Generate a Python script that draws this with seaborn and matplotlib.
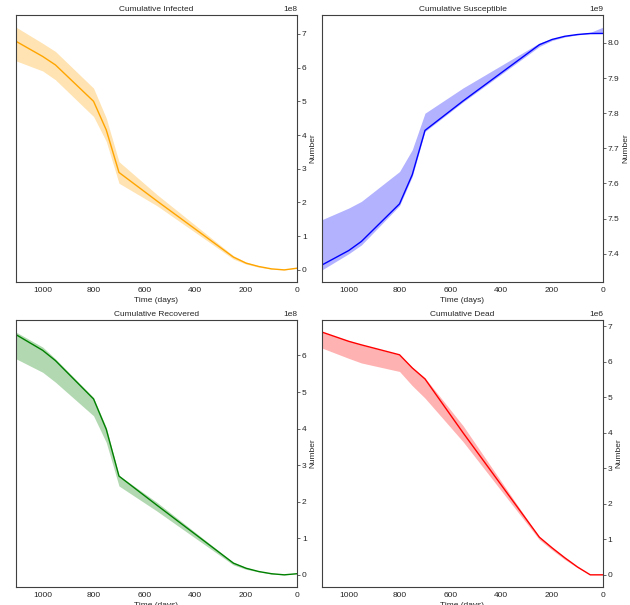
import numpy as np
import pandas as pd
import seaborn as sns
import matplotlib.pyplot as plt

sns.set_style("white")
plt.rcParams['font.family'] = ['Liberation Sans', 'DejaVu Sans']

# time grid (days)
time_days = [0, 50, 100, 150, 200, 250, 550, 700, 750, 800, 950, 1000, 1105]

# Cumulative Infected (x1e8)
infected_mean = [0.05, 0.0, 0.03, 0.10, 0.20, 0.38, 2.04, 2.89, 4.15, 5.00, 6.08, 6.33, 6.78]
infected_low = [0.05, 0.0, 0.02, 0.08, 0.17, 0.32, 1.90, 2.57, 3.81, 4.55, 5.64, 5.90, 6.20]
infected_high = [0.06, 0.02, 0.04, 0.12, 0.23, 0.42, 2.23, 3.21, 4.50, 5.39, 6.48, 6.72, 7.20]

# Cumulative Susceptible (x1e9)
susceptible_mean = [8.027, 8.027, 8.024, 8.019, 8.010, 7.995, 7.835, 7.751, 7.625, 7.542, 7.435, 7.409, 7.368]
susceptible_low = [8.027, 8.026, 8.023, 8.017, 8.007, 7.990, 7.832, 7.748, 7.620, 7.537, 7.425, 7.400, 7.354]
susceptible_high = [8.045, 8.030, 8.026, 8.020, 8.012, 8.000, 7.872, 7.800, 7.696, 7.634, 7.549, 7.530, 7.497]

# Cumulative Recovered (x1e8)
recovered_mean = [0.03, 0.0, 0.03, 0.09, 0.18, 0.32, 1.90, 2.70, 3.98, 4.81, 5.86, 6.14, 6.57]
recovered_low = [0.03, 0.0, 0.02, 0.08, 0.15, 0.27, 1.74, 2.43, 3.62, 4.35, 5.27, 5.54, 5.91]
recovered_high = [0.03, 0.01, 0.04, 0.10, 0.20, 0.34, 1.98, 2.72, 4.03, 4.85, 5.91, 6.23, 6.64]

# Cumulative Dead (x1e6)
dead_mean = [0.0, 0.0, 0.22, 0.48, 0.76, 1.06, 4.00, 5.52, 5.83, 6.20, 6.48, 6.58, 6.84]
dead_low = [0.0, 0.0, 0.20, 0.43, 0.70, 0.99, 3.75, 4.98, 5.33, 5.73, 5.97, 6.10, 6.39]
dead_high = [0.0, 0.0, 0.22, 0.48, 0.76, 1.06, 4.20, 5.55, 5.85, 6.20, 6.48, 6.60, 6.84]

panels = [
    ("Cumulative Infected", 1e8, infected_mean, infected_low, infected_high, "orange"),
    ("Cumulative Susceptible", 1e9, susceptible_mean, susceptible_low, susceptible_high, "blue"),
    ("Cumulative Recovered", 1e8, recovered_mean, recovered_low, recovered_high, "green"),
    ("Cumulative Dead", 1e6, dead_mean, dead_low, dead_high, "red"),
]

fig, axes = plt.subplots(2, 2, figsize=(6.3, 6.05), dpi=100)
fig.subplots_adjust(left=0.0254, right=0.9571, top=0.9752, bottom=0.0298,
                    wspace=0.089, hspace=0.142)

fs = 6
for ax, (title, scale, mean, low, high, color) in zip(axes.flat, panels):
    df = pd.DataFrame({"t": time_days, "v": np.array(mean) * scale})
    sns.lineplot(data=df, x="t", y="v", color=color, lw=1.0, ax=ax)
    ax.fill_between(time_days, np.array(low) * scale, np.array(high) * scale,
                    color=color, alpha=0.3, lw=0)
    ax.set_xlim(max(time_days), 0)
    ax.yaxis.tick_right()
    ax.yaxis.set_label_position("right")
    ax.yaxis.offsetText.set_horizontalalignment("right")
    ax.yaxis.offsetText.set_fontsize(fs)
    ax.set_title(title, fontsize=fs, pad=3)
    ax.set_xlabel("Time (days)", fontsize=fs, labelpad=2)
    ax.set_ylabel("Number", fontsize=fs, labelpad=2)
    ax.tick_params(axis="both", labelsize=fs, length=2, width=0.6, pad=1.5,
                   color="0.3")
    ax.tick_params(axis="y", right=True, left=False)
    for s in ax.spines.values():
        s.set_color("0.25")
        s.set_linewidth(0.8)

fig.savefig("out.png", dpi=100)
